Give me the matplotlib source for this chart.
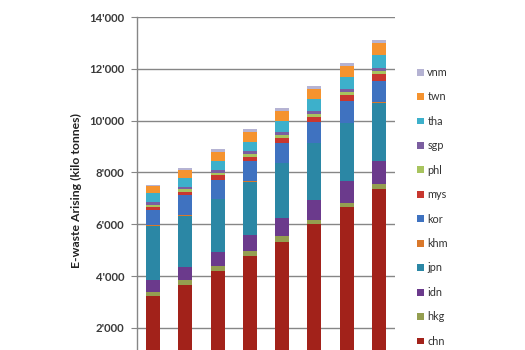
import matplotlib
matplotlib.use("Agg")
import matplotlib.pyplot as plt
import numpy as np
from matplotlib.ticker import FuncFormatter

years = ["2010", "2011", "2012", "2013", "2014", "2015", "2016", "2017"]

# e-waste arising per economy (kilo tonnes), bottom to top of each stack
chn = [3250, 3660, 4210, 4780, 5330, 6010, 6660, 7370]
hkg = [150, 175, 200, 175, 210, 175, 180, 180]
idn = [470, 500, 530, 630, 690, 750, 840, 890]
jpn = [2080, 1990, 2020, 2060, 2130, 2190, 2220, 2250]
khm = [15, 17, 19, 21, 23, 25, 27, 29]
kor = [585, 775, 750, 760, 770, 790, 835, 820]
mys = [100, 135, 165, 175, 195, 215, 215, 245]
phl = [110, 100, 100, 115, 115, 115, 125, 135]
sgp = [110, 100, 100, 110, 115, 115, 125, 130]
tha = [345, 330, 345, 345, 415, 445, 475, 475]
twn = [250, 330, 365, 405, 375, 375, 415, 475]
vnm = [65, 70, 85, 90, 125, 125, 125, 130]

series_names = ["chn", "hkg", "idn", "jpn", "khm", "kor", "mys", "phl", "sgp", "tha", "twn", "vnm"]
series_vals = [chn, hkg, idn, jpn, khm, kor, mys, phl, sgp, tha, twn, vnm]
colors = ["#A2221A", "#949E50", "#6B3A8C", "#2B87A5", "#D9782B", "#3F72C0",
          "#C8372F", "#A8C45E", "#7B5EA0", "#3DB0CB", "#F5932F", "#B5B3D3"]

yticks = [2000, 4000, 6000, 8000, 10000, 12000, 14000]

plt.rcParams['font.family'] = ['Lato', 'DejaVu Sans']

fig = plt.figure(figsize=(5.25, 3.5), dpi=100)
ax_bottom = (350 - 379.8) / 350
ax_top = (350 - 17) / 350
ax = fig.add_axes([137 / 525, ax_bottom, (395 - 137) / 525, ax_top - ax_bottom])

x = np.arange(len(years))
bottom = np.zeros(len(years))
handles = []
for name, vals, c in zip(series_names, series_vals, colors):
    b = ax.bar(x, vals, width=0.44, bottom=bottom, color=c, label=name, zorder=3)
    handles.append(b)
    bottom += np.array(vals)

ax.set_xlim(-0.5, len(years) - 0.5)
ax.set_ylim(0, 14000)
ax.set_yticks(yticks)
ax.yaxis.set_major_formatter(FuncFormatter(lambda v, p: "{:,.0f}".format(v).replace(",", "'")))
ax.set_xticks(x)
ax.tick_params(axis='x', labelbottom=False, length=0)
ax.grid(axis='y', color='#868686', linewidth=1.0, zorder=0)
for s in ['top', 'right', 'bottom']:
    ax.spines[s].set_visible(False)
ax.spines['left'].set_color('#868686')
ax.spines['left'].set_linewidth(1.0)
ax.tick_params(axis='y', length=4, color='#868686', pad=5, labelsize=8.2, labelcolor='#3a3a3a')
for t in ax.get_yticklabels():
    t.set_fontweight('bold')

fig.text(76 / 525, (350 - 190) / 350, "E-waste Arising (kilo tonnes)", rotation=90,
         ha='center', va='center', fontsize=8.8, fontweight='bold', color='#222222')

leg = fig.legend(handles[::-1], series_names[::-1], loc='upper left',
                 bbox_to_anchor=(417 / 525, (350 - 67) / 350), frameon=False,
                 fontsize=7.8, labelspacing=1.24, handlelength=0.6, handleheight=0.6,
                 handletextpad=0.35, borderpad=0, borderaxespad=0)
for t in leg.get_texts():
    t.set_color('#333333')

fig.savefig("out.png", dpi=100)
